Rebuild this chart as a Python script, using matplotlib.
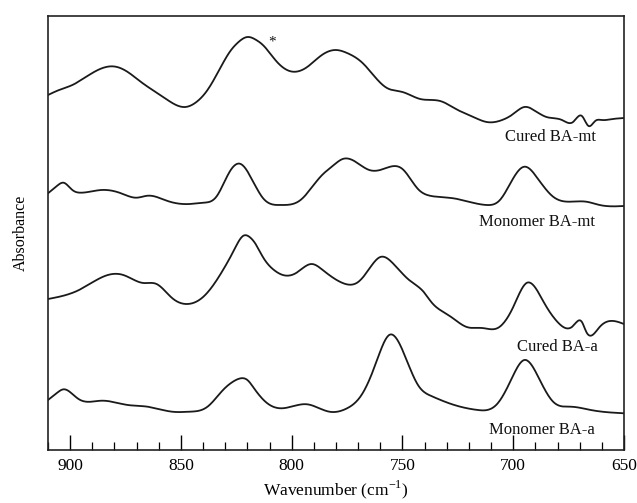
import numpy as np
import matplotlib
matplotlib.use("Agg")
import matplotlib.pyplot as plt
from matplotlib.ticker import MultipleLocator

# ---- data (wavenumber in cm^-1, absorbance in offset a.u.) ----
wn_cured_mt = [910, 905, 899, 890, 880, 874, 868, 858, 848, 843, 838, 831, 828, 824, 820,
               816, 813, 807, 801, 793, 787, 780, 775, 768, 762, 757, 750, 742, 733, 725,
               718, 712, 705, 700, 695, 690, 685, 678, 673, 669, 666, 663, 660, 655, 650]
abs_cured_mt = [3.55, 3.60, 3.65, 3.77, 3.835, 3.78, 3.68, 3.53, 3.43, 3.48, 3.60, 3.87, 3.98, 4.08, 4.13,
                4.10, 4.05, 3.89, 3.79, 3.83, 3.94, 4.00, 3.97, 3.87, 3.72, 3.62, 3.58, 3.51, 3.49, 3.40,
                3.33, 3.28, 3.30, 3.36, 3.43, 3.39, 3.33, 3.30, 3.28, 3.34, 3.24, 3.29, 3.30, 3.31, 3.32]

wn_mono_mt = [910, 906, 903, 899, 895, 886, 877, 870, 865, 856, 846, 840, 834, 828, 823,
              819, 813, 805, 796, 787, 781, 777, 772, 765, 759, 750, 743, 737, 727, 712,
              706, 700, 695, 689, 682, 674, 667, 661, 650]
abs_mono_mt = [2.567, 2.64, 2.673, 2.60, 2.573, 2.60, 2.567, 2.523, 2.543, 2.49, 2.46, 2.473, 2.533, 2.783, 2.86,
               2.75, 2.52, 2.45, 2.50, 2.733, 2.85, 2.91, 2.893, 2.80, 2.807, 2.81, 2.61, 2.54, 2.517, 2.45,
               2.50, 2.717, 2.833, 2.717, 2.533, 2.483, 2.483, 2.45, 2.44]

wn_cured_a = [910, 896, 883, 876, 867, 861, 854, 847, 840, 831, 826, 822, 819, 816, 813,
              808, 804, 798, 791, 786, 777, 770, 766, 760, 754, 747, 740, 737, 733, 728,
              721, 714, 707, 700, 694, 686, 680, 673, 669, 667, 661, 650]
abs_cured_a = [1.51, 1.60, 1.75, 1.75, 1.67, 1.66, 1.52, 1.46, 1.53, 1.80, 2.00, 2.14, 2.13, 2.05, 1.93,
               1.80, 1.75, 1.77, 1.86, 1.80, 1.67, 1.68, 1.78, 1.93, 1.86, 1.70, 1.57, 1.48, 1.40, 1.33,
               1.23, 1.22, 1.22, 1.43, 1.67, 1.47, 1.28, 1.24, 1.28, 1.18, 1.23, 1.26]

wn_mono_a = [910, 906, 903, 899, 896, 886, 874, 865, 854, 846, 838, 831, 826, 823, 820,
             817, 811, 805, 799, 793, 783, 775, 768, 762, 756, 750, 743, 737, 728, 716,
             707, 701, 695, 688, 682, 674, 665, 650]
abs_mono_a = [0.50, 0.57, 0.607, 0.56, 0.507, 0.493, 0.45, 0.433, 0.383, 0.383, 0.433, 0.60, 0.69, 0.717, 0.70,
              0.617, 0.467, 0.417, 0.44, 0.457, 0.383, 0.417, 0.567, 0.867, 1.15, 1.00, 0.65, 0.54, 0.46, 0.40,
              0.467, 0.70, 0.90, 0.70, 0.483, 0.433, 0.40, 0.367]

series_labels = ["Cured BA-mt", "Monomer BA-mt", "Cured BA-a", "Monomer BA-a"]
x_ticks = [900, 850, 800, 750, 700, 650]


def smooth(x, y, n=800):
    """Natural cubic spline through the read points (display smoothing only)."""
    x = np.asarray(x, float)[::-1]
    y = np.asarray(y, float)[::-1]
    m = len(x)
    h = np.diff(x)
    A = np.zeros((m, m))
    b = np.zeros(m)
    A[0, 0] = A[-1, -1] = 1
    for i in range(1, m - 1):
        A[i, i - 1] = h[i - 1]
        A[i, i] = 2 * (h[i - 1] + h[i])
        A[i, i + 1] = h[i]
        b[i] = 3 * ((y[i + 1] - y[i]) / h[i] - (y[i] - y[i - 1]) / h[i - 1])
    c = np.linalg.solve(A, b)
    xs = np.linspace(x[0], x[-1], n)
    idx = np.clip(np.searchsorted(x, xs) - 1, 0, m - 2)
    dx = xs - x[idx]
    bb = (y[idx + 1] - y[idx]) / h[idx] - h[idx] * (2 * c[idx] + c[idx + 1]) / 3
    dd = (c[idx + 1] - c[idx]) / (3 * h[idx])
    ys = y[idx] + bb * dx + c[idx] * dx ** 2 + dd * dx ** 3
    return xs, ys


plt.rcParams['font.family'] = ['Liberation Serif', 'DejaVu Serif']
plt.rcParams['mathtext.fontset'] = 'custom'
plt.rcParams['mathtext.rm'] = 'Liberation Serif'

fig = plt.figure(figsize=(6.37, 5.03), dpi=100)
ax = fig.add_axes([48 / 637, 53 / 503, 576 / 637, 434 / 503])

for wn, ab in [(wn_cured_mt, abs_cured_mt), (wn_mono_mt, abs_mono_mt),
               (wn_cured_a, abs_cured_a), (wn_mono_a, abs_mono_a)]:
    xs, ys = smooth(wn, ab)
    ax.plot(xs, ys, color='#1a1a1a', lw=1.3)

label_pos = [(683.4, 3.13), (689.2, 2.28), (680.2, 1.03), (687.0, 0.20)]
for lab, (lx, ly) in zip(series_labels, label_pos):
    ax.text(lx, ly, lab, ha='center', va='center', fontsize=12, color='#111111')

ax.text(809, 4.08, '*', ha='center', va='center', fontsize=11, color='#111111')

ax.set_xlim(910, 650)
ax.set_ylim(0, 4.34)
ax.set_xticks(x_ticks)
ax.set_xticklabels([str(t) for t in x_ticks])
ax.xaxis.set_minor_locator(MultipleLocator(10))
ax.tick_params(axis='x', which='major', direction='in', length=11, width=1.0,
               labelsize=12.5, pad=6, top=False)
ax.tick_params(axis='x', which='minor', direction='in', length=6, width=0.9, top=False)
ax.set_yticks([])
for s in ax.spines.values():
    s.set_linewidth(1.2)
    s.set_color('#222222')

ax.set_xlabel('Wavenumber (cm$^{\\mathregular{-1}}$)', fontsize=12.5, labelpad=3)
ax.set_ylabel('Absorbance', fontsize=11.5, labelpad=14)

fig.savefig('out.png', dpi=100)
